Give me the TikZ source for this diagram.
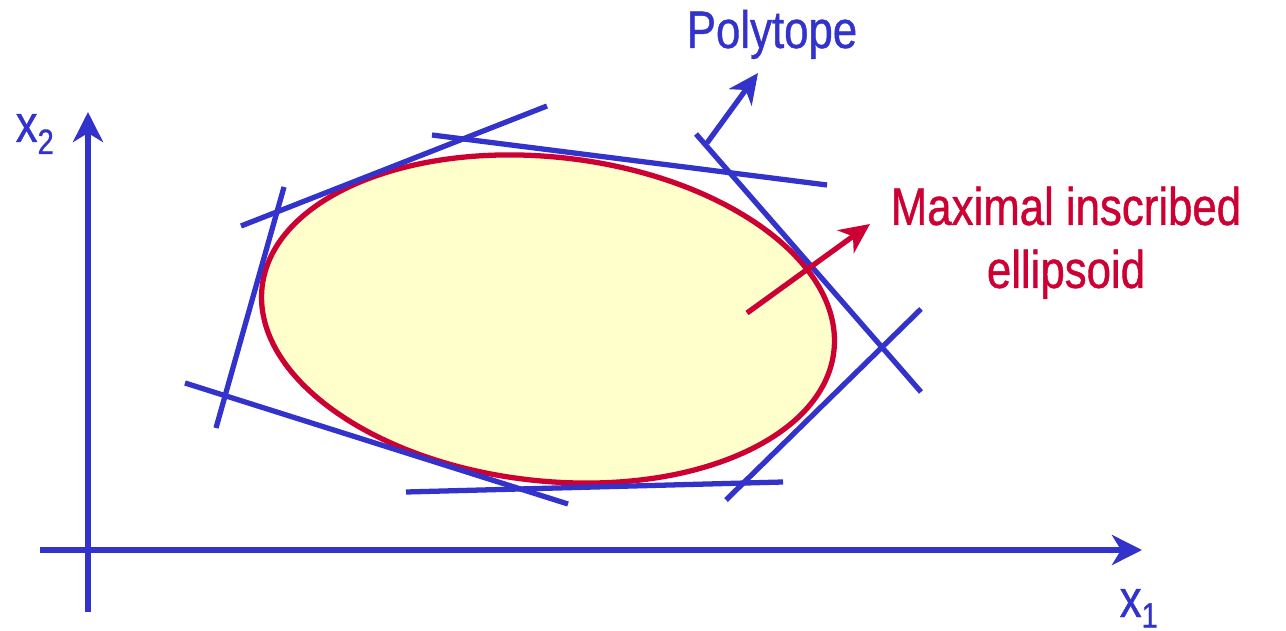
\documentclass[tikz,border=0pt]{standalone}
\usepackage{fontspec}
\setmainfont{Liberation Sans}[FakeStretch=0.83, FakeBold=0.8]
\usetikzlibrary{arrows.meta}
\definecolor{polyBlue}{HTML}{3333CC}
\definecolor{ellRed}{HTML}{CC0033}
\definecolor{ellFill}{HTML}{FFFFCC}
\tikzset{
  facet/.style={draw=polyBlue, line width=1.5pt},
  axis/.style={draw=polyBlue, line width=1.5pt,
    -{Stealth[length=3mm, width=3mm, inset=0.9mm]}},
  pointer/.style={line width=1.5pt,
    -{Stealth[length=3mm, width=2.8mm, inset=0.9mm]}},
  lbl/.style={inner sep=0pt, font=\fontsize{15}{17.9}\selectfont},
}

\begin{document}
\begin{tikzpicture}[x=0.01cm, y=-0.01cm]
    \useasboundingbox (0,0) rectangle (1286,631);

    % axes
    \coordinate (yBot) at (88,612);
    \coordinate (yTop) at (88,112);
    \coordinate (xLeft) at (40,550);
    \coordinate (xRight) at (1142,550);
    \draw[axis] (yBot) -- (yTop);
    \draw[axis] (xLeft) -- (xRight);
    \node[lbl, text=polyBlue, anchor=base west] (x2) at (15,142)
      {x\raisebox{-3.4pt}{\fontsize{10}{12}\selectfont 2}};
    \node[lbl, text=polyBlue, anchor=base west] (x1) at (1119,617)
      {x\raisebox{-3pt}{\fontsize{10}{12}\selectfont 1}};

    % inscribed ellipsoid
    \draw[ellRed, fill=ellFill, line width=1.5pt,
      rotate around={-6.4:(548,319)}]
      (548,319) ellipse [x radius=287.7, y radius=161.9];

    % polytope facets
    \draw[facet] (241,226) -- (547,106);
    \draw[facet] (432,135) -- (827,185);
    \draw[facet] (696,134) -- (921,392);
    \draw[facet] (726,500) -- (921,309);
    \draw[facet] (406,492) -- (783,482);
    \draw[facet] (185,383) -- (568,504);
    \draw[facet] (216,428) -- (284,187);

    % labels
    \node[lbl, text=polyBlue, anchor=base] (poly) at (772,48) {Polytope};
    \node[lbl, text=ellRed, align=center, anchor=north] (mie) at (1066,186)
      {Maximal inscribed\\ellipsoid};

    \coordinate (polyTail) at (707,143);
    \coordinate (polyTip) at (758,73);
    \draw[pointer, polyBlue] (polyTail) -- (polyTip);
    \coordinate (mieTail) at (747,313);
    \coordinate (mieTip) at (870,224);
    \draw[pointer, ellRed] (mieTail) -- (mieTip);
\end{tikzpicture}
\end{document}
